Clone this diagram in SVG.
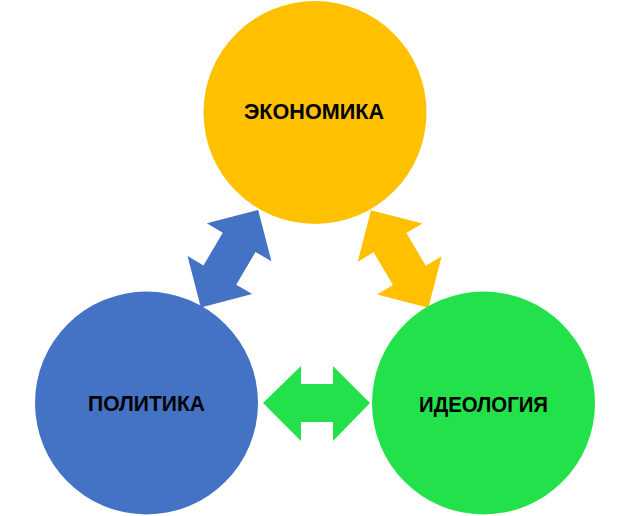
<svg xmlns="http://www.w3.org/2000/svg" width="630" height="516" viewBox="0 0 630 516">
  <style>
    .lbl { font-family: "Liberation Sans", Arial, sans-serif; font-weight: bold; font-size: 22px; fill: #000; text-anchor: middle; }
  </style>
  <rect width="630" height="516" fill="#fff"/>
  <g id="connectors">
    <polygon id="arrow-green" fill="#22E14A" points="263,403 301,366 301,384 333,384 333,366 370,403 333,441 333,422 301,422 301,441"/>
    <polygon id="arrow-blue" fill="#4472C4" transform="translate(229.5,258.7) rotate(-59.5)" points="-56.5,0 -19,-37.5 -19,-19 19,-19 19,-37.5 56.5,0 19,37.5 19,19 -19,19 -19,37.5"/>
    <polygon id="arrow-orange" fill="#FFC000" transform="translate(399.7,259) rotate(59.5)" points="-56.5,0 -19,-37.5 -19,-19 19,-19 19,-37.5 56.5,0 19,37.5 19,19 -19,19 -19,37.5"/>
  </g>
  <g id="node-economy">
    <circle cx="315" cy="112.5" r="111.5" fill="#FFC000"/>
    <text class="lbl" x="314" y="119" textLength="140" lengthAdjust="spacingAndGlyphs">ЭКОНОМИКА</text>
  </g>
  <g id="node-politics">
    <circle cx="146.5" cy="403" r="111.5" fill="#4472C4"/>
    <text class="lbl" x="146.5" y="411" textLength="117" lengthAdjust="spacingAndGlyphs">ПОЛИТИКА</text>
  </g>
  <g id="node-ideology">
    <circle cx="483.5" cy="403" r="111.5" fill="#22E14A"/>
    <text class="lbl" x="483.5" y="412" textLength="129" lengthAdjust="spacingAndGlyphs">ИДЕОЛОГИЯ</text>
  </g>
</svg>
